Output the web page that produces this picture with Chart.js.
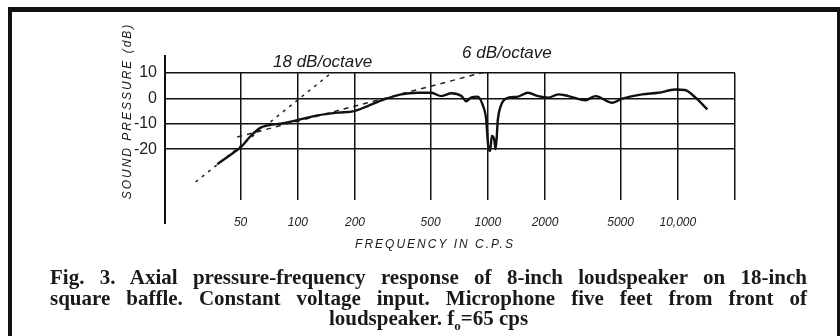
<!DOCTYPE html>
<html>
<head>
<meta charset="utf-8">
<script src="https://cdn.jsdelivr.net/npm/chart.js@4.4.1/dist/chart.umd.min.js"></script>
<style>
  html, body { margin: 0; padding: 0; background: #fff; overflow: hidden; }
  #wrap { position: relative; width: 840px; height: 336px; overflow: hidden; }
  #frame { position: absolute; left: 8px; top: 7px; width: 825px; height: 360px;
           border: 4px solid #111; border-top-width: 5px; }
  #chart { position: absolute; left: 0; top: 0; }
  #caption { position: absolute; left: 50px; top: 267px; width: 757px; color: #1a1a1a;
             font: bold 21px "Liberation Serif", "Times New Roman", serif; line-height: 20.5px; }
  .j { text-align: justify; text-align-last: justify; }
  .c { text-align: center; }
</style>
</head>
<body>
<div id="wrap">
  <div id="frame"></div>
  <canvas id="chart" width="840" height="336"></canvas>
  <div id="caption">
    <div class="j">Fig. 3. Axial pressure-frequency response of 8-inch loudspeaker on 18-inch</div>
    <div class="j">square baffle. Constant voltage input. Microphone five feet from front of</div>
    <div class="c">loudspeaker. f<sub style="font-size:13px">o</sub>=65 cps</div>
  </div>
</div>
<script>
// measured response (Hz, dB)
const responseHz = [37.7, 46, 50, 56.5, 63.8, 70, 84, 99, 127, 162, 198, 233, 285, 350, 428, 505,
  570, 644, 727, 770, 815, 884, 938, 980, 1005, 1029, 1050, 1080, 1100, 1130, 1170, 1245,
  1440, 1625, 1840, 2080, 2350, 2660, 3260, 3690, 4520, 5100, 6500, 7900, 9700, 10900, 12400, 14300];
const responseDb = [-25.9, -21.3, -19.3, -14.8, -11.5, -10.6, -9.8, -8.6, -6.7, -5.6, -5.0, -3.0, -0.4, 1.6, 2.2, 2.2,
  0.9, 2.0, 0.9, -1.1, 0.3, 0.7, -2.4, -8.2, -18.7, -20.7, -14.8, -16.1, -20, -8.2, -3.0, -0.1,
  0.7, 2.2, 0.9, 0.3, 1.6, 0.9, -0.7, 0.9, -1.7, -0.1, 1.6, 2.2, 3.5, 3.3, 0.3, -4.3];

// asymptote lines
const slope18Hz = [29, 162];
const slope18Db = [-32.9, 12.0];
const slope6Hz = [48, 1000];
const slope6Db = [-15.2, 10.7];

const freqTicks = [50, 100, 200, 500, 1000, 2000, 5000, 10000, 20000];
const freqLabels = ['50', '100', '200', '500', '1000', '2000', '5000', '10,000', ''];
const dbTicks = [10, 0, -10, -20];
const dbLabels = ['10', '0', '-10', '-20'];

const toPoints = (xs, ys) => xs.map((x, i) => ({ x: x, y: ys[i] }));

const hand = 'italic 12px "Liberation Sans", "DejaVu Sans", sans-serif';

// axis line, axis titles and slope notes
const extras = {
  id: 'extras',
  afterDraw(chart) {
    const ctx = chart.ctx;
    const a = chart.chartArea;
    ctx.save();
    ctx.strokeStyle = '#111';
    ctx.lineWidth = 2;
    ctx.beginPath();
    ctx.moveTo(a.left, a.top - 18);
    ctx.lineTo(a.left, a.bottom + 24);
    ctx.stroke();

    ctx.fillStyle = '#1a1a1a';
    ctx.textAlign = 'center';
    ctx.textBaseline = 'middle';
    ctx.font = hand;
    ctx.letterSpacing = '2px';
    ctx.fillText('FREQUENCY IN C.P.S', 435, 245);

    ctx.save();
    ctx.translate(128, 111);
    ctx.rotate(-Math.PI / 2);
    ctx.fillText('SOUND PRESSURE (dB)', 0, 0);
    ctx.restore();

    ctx.letterSpacing = '0px';
    ctx.font = 'italic 17px "Liberation Sans", "DejaVu Sans", sans-serif';
    ctx.textAlign = 'left';
    ctx.fillText('18 dB/octave', 273, 62);
    ctx.fillText('6 dB/octave', 462, 53);
    ctx.restore();
  }
};

new Chart(document.getElementById('chart'), {
  type: 'scatter',
  data: {
    datasets: [
      {
        data: toPoints(responseHz, responseDb),
        showLine: true,
        borderColor: '#111',
        borderWidth: 2.4,
        pointRadius: 0,
        cubicInterpolationMode: 'monotone'
      },
      {
        data: toPoints(slope18Hz, slope18Db),
        showLine: true,
        borderColor: '#222',
        borderWidth: 1.5,
        borderDash: [3, 5],
        pointRadius: 0
      },
      {
        data: toPoints(slope6Hz, slope6Db),
        showLine: true,
        borderColor: '#222',
        borderWidth: 1.5,
        borderDash: [5, 5],
        pointRadius: 0
      }
    ]
  },
  options: {
    responsive: false,
    animation: false,
    devicePixelRatio: 1,
    layout: { padding: { top: 73, right: 105, left: 0, bottom: 0 } },
    plugins: { legend: { display: false }, tooltip: { enabled: false } },
    scales: {
      x: {
        type: 'logarithmic',
        min: 20,
        max: 20000,
        afterBuildTicks: s => { s.ticks = freqTicks.map(v => ({ value: v })); },
        afterFit: s => { s.height = 136; },
        border: { display: false },
        grid: { color: '#111', lineWidth: 1.5, drawTicks: false },
        ticks: {
          autoSkip: false,
          maxRotation: 0,
          padding: 15,
          color: '#222',
          font: { family: '"Liberation Sans", "DejaVu Sans", sans-serif', style: 'italic', size: 12 },
          callback: v => freqLabels[freqTicks.indexOf(v)] ?? ''
        }
      },
      y: {
        min: -40,
        max: 10,
        afterBuildTicks: s => { s.ticks = dbTicks.map(v => ({ value: v })); },
        afterFit: s => { s.width = 165; },
        border: { display: false },
        grid: { color: '#111', lineWidth: 1.5, drawTicks: false },
        ticks: {
          padding: 8,
          color: '#222',
          font: { family: '"Liberation Sans", "DejaVu Sans", sans-serif', size: 16 },
          callback: v => dbLabels[dbTicks.indexOf(v)] ?? ''
        }
      }
    }
  },
  plugins: [extras]
});
</script>
</body>
</html>
